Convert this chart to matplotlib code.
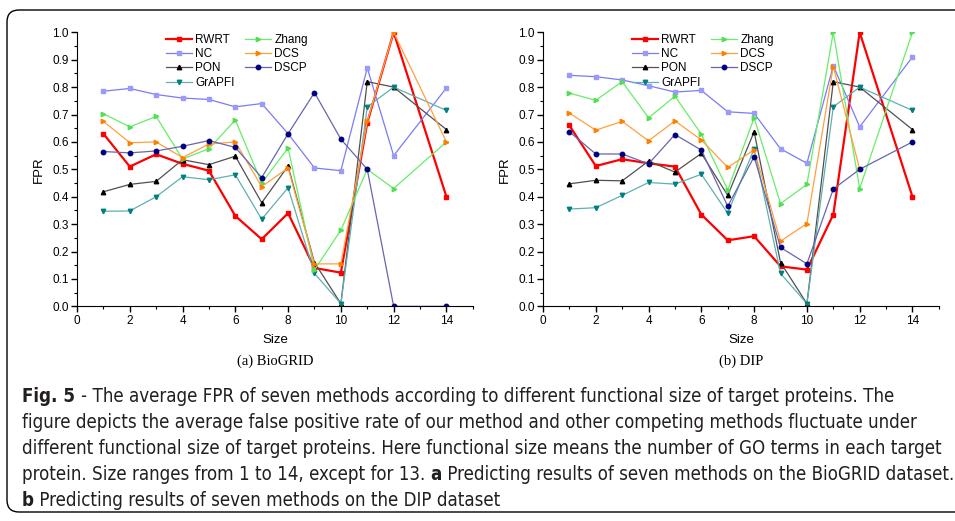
import numpy as np
import matplotlib.pyplot as plt
from matplotlib.patches import FancyBboxPatch

# functional size (13 is missing)
sizes = [1, 2, 3, 4, 5, 6, 7, 8, 9, 10, 11, 12, 14]

# (a) BioGRID
bio_rwrt = [0.63, 0.51, 0.555, 0.52, 0.495, 0.33, 0.245, 0.34, 0.14, 0.123, 0.67, 1.0, 0.40]
bio_nc = [0.785, 0.795, 0.773, 0.76, 0.755, 0.728, 0.74, 0.63, 0.505, 0.495, 0.87, 0.55, 0.797]
bio_pon = [0.418, 0.445, 0.456, 0.535, 0.517, 0.548, 0.378, 0.512, 0.16, 0.01, 0.82, 0.80, 0.645]
bio_grapfi = [0.347, 0.348, 0.40, 0.473, 0.462, 0.48, 0.318, 0.433, 0.12, 0.01, 0.728, 0.80, 0.715]
bio_zhang = [0.703, 0.655, 0.693, 0.538, 0.575, 0.68, 0.45, 0.578, 0.133, 0.278, 0.50, 0.43, 0.60]
bio_dcs = [0.675, 0.597, 0.60, 0.543, 0.592, 0.60, 0.437, 0.505, 0.155, 0.155, 0.675, 1.0, 0.60]
bio_dscp = [0.565, 0.56, 0.567, 0.584, 0.605, 0.58, 0.47, 0.63, 0.78, 0.61, 0.50, 0.0, 0.0]

# (b) DIP
dip_rwrt = [0.66, 0.512, 0.537, 0.522, 0.51, 0.335, 0.241, 0.256, 0.146, 0.134, 0.335, 1.0, 0.40]
dip_nc = [0.843, 0.838, 0.826, 0.805, 0.782, 0.788, 0.71, 0.704, 0.575, 0.522, 0.878, 0.655, 0.91]
dip_pon = [0.447, 0.46, 0.458, 0.53, 0.49, 0.558, 0.405, 0.637, 0.16, 0.01, 0.82, 0.80, 0.645]
dip_grapfi = [0.355, 0.36, 0.405, 0.452, 0.446, 0.482, 0.34, 0.575, 0.12, 0.01, 0.728, 0.80, 0.715]
dip_zhang = [0.778, 0.752, 0.82, 0.688, 0.767, 0.628, 0.425, 0.688, 0.375, 0.445, 1.0, 0.43, 1.0]
dip_dcs = [0.705, 0.643, 0.675, 0.604, 0.677, 0.607, 0.507, 0.571, 0.238, 0.302, 0.875, 0.50, np.nan]
dip_dscp = [0.637, 0.556, 0.556, 0.52, 0.627, 0.57, 0.365, 0.546, 0.215, 0.155, 0.428, 0.50, 0.60]

methods = ['RWRT', 'NC', 'PON', 'GrAPFI', 'Zhang', 'DCS', 'DSCP']
bio_data = [bio_rwrt, bio_nc, bio_pon, bio_grapfi, bio_zhang, bio_dcs, bio_dscp]
dip_data = [dip_rwrt, dip_nc, dip_pon, dip_grapfi, dip_zhang, dip_dcs, dip_dscp]

# line colour, marker colour, marker, line width
styles = {
    'RWRT': ('#ff0000', '#ff0000', 's', 1.6),
    'NC': ('#7b7bf5', '#9a9af8', 's', 0.9),
    'PON': ('#505050', '#000000', '^', 0.9),
    'GrAPFI': ('#5fb0b0', '#008080', 'v', 0.9),
    'Zhang': ('#66ee66', '#55dd55', '>', 0.9),
    'DCS': ('#ffa040', '#ff8000', '>', 0.9),
    'DSCP': ('#6666b0', '#000080', 'o', 0.9),
}

plt.rcParams['font.family'] = ['Liberation Sans', 'DejaVu Sans']

fig = plt.figure(figsize=(9.55, 5.21), dpi=100)

# rounded frame around the whole figure
frame = FancyBboxPatch((0.07, 0.09), 9.9, 5.02, boxstyle='round,pad=0,rounding_size=0.12',
                       transform=fig.dpi_scale_trans, fill=False, edgecolor='black', lw=1.0,
                       clip_on=False)
fig.patches.append(frame)

panels = [
    (0.0806, bio_data, '(a) BioGRID'),
    (0.5686, dip_data, '(b) DIP'),
]

for left, data, sub in panels:
    ax = fig.add_axes([left, 0.412, 0.4145, 0.526])
    for name, vals in zip(methods, data):
        lc, mc, mk, lw = styles[name]
        ax.plot(sizes, vals, color=lc, lw=lw, marker=mk, markersize=3.2,
                markerfacecolor=mc, markeredgecolor=mc, label=name)
    ax.set_xlim(0, 15)
    ax.set_ylim(0, 1.0)
    ax.set_xticks(np.arange(0, 15, 2))
    ax.set_xticks(np.arange(0, 16, 1), minor=True)
    ax.set_yticks(np.arange(0, 1.01, 0.1))
    ax.set_yticks(np.arange(0, 1.01, 0.05), minor=True)
    ax.yaxis.set_major_formatter(plt.FormatStrFormatter('%.1f'))
    ax.spines['top'].set_visible(False)
    ax.spines['right'].set_visible(False)
    ax.tick_params(which='major', direction='out', length=4, width=1, labelsize=8.5, pad=2)
    ax.tick_params(which='minor', direction='out', length=2.5, width=0.8)
    ax.set_xlabel('Size', fontsize=9.5, labelpad=5)
    ax.set_ylabel('FPR', fontsize=9.5, labelpad=5)
    ax.patch.set_alpha(0)
    ax.legend(ncol=2, loc='upper left', bbox_to_anchor=(0.205, 1.025), frameon=False,
              fontsize=8.5, handlelength=2.2, labelspacing=0.2, columnspacing=0.9,
              handletextpad=0.25, borderpad=0.2)
    fig.text(left + 0.4145 / 2, 1 - 361 / 521, sub, ha='center', va='center',
             fontsize=10.5, family=['Liberation Serif', 'DejaVu Serif'])

cap_font = ['DejaVu Sans']
cap_stretch = 'condensed'
cap_lines = [
    'The average FPR of seven methods according to different functional size of target proteins. The',
    'figure depicts the average false positive rate of our method and other competing methods fluctuate under',
    'different functional size of target proteins. Here functional size means the number of GO terms in each target',
    'protein. Size ranges from 1 to 14, except for 13. ',
    ' Predicting results of seven methods on the DIP dataset',
]
cap_y = [397, 423, 449, 475, 501]

fig.canvas.draw()
r = fig.canvas.get_renderer()

# fit caption font size so the longest line spans the same width as the reference
probe = fig.text(0, 0, cap_lines[2], fontsize=12, family=cap_font, fontstretch=cap_stretch)
w = probe.get_window_extent(renderer=r).width
probe.remove()
fs = 12 * 919 / w


def put(x_px, y_px, s, bold=False):
    t = fig.text(x_px / 955, 1 - y_px / 521, s, ha='left', va='center', fontsize=fs,
                 family=cap_font, fontstretch=cap_stretch,
                 fontweight='bold' if bold else 'normal', color='#231f20')
    return t


def after(t, gap=0):
    bb = t.get_window_extent(renderer=r)
    return bb.x1 + gap


t = put(22, cap_y[0], 'Fig. 5', bold=True)
put(after(t, 6), cap_y[0], '- ' + cap_lines[0])
put(22, cap_y[1], cap_lines[1])
put(22, cap_y[2], cap_lines[2])
t = put(22, cap_y[3], cap_lines[3])
t = put(after(t), cap_y[3], 'a', bold=True)
put(after(t), cap_y[3], ' Predicting results of seven methods on the BioGRID dataset.')
t = put(22, cap_y[4], 'b', bold=True)
put(after(t), cap_y[4], cap_lines[4])

fig.savefig('out.png', dpi=100)
